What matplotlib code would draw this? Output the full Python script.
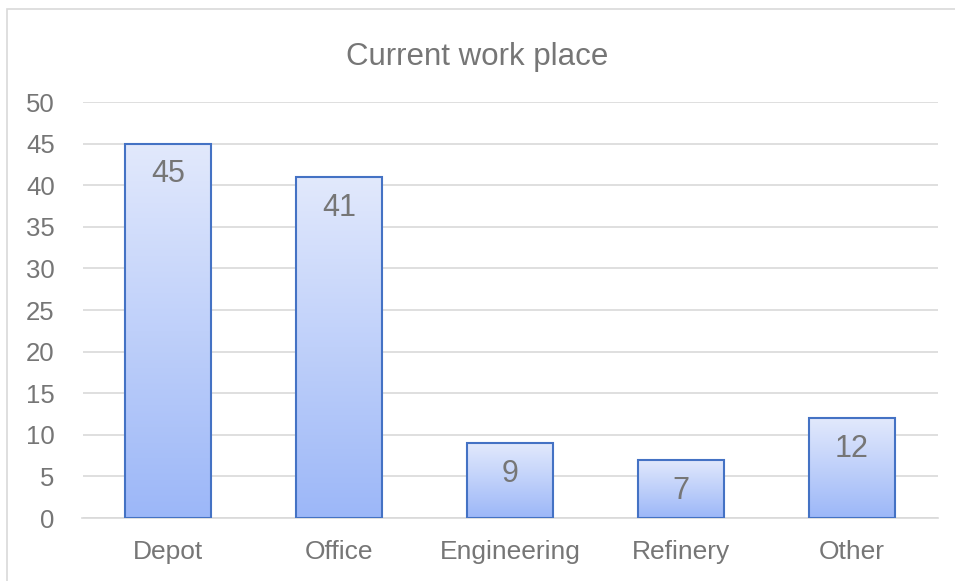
import matplotlib.pyplot as plt
import numpy as np
from matplotlib.colors import LinearSegmentedColormap
from matplotlib.patches import Rectangle

plt.rcParams["font.family"] = ["Liberation Sans", "DejaVu Sans"]

categories = ["Depot", "Office", "Engineering", "Refinery", "Other"]
counts = [45, 41, 9, 7, 12]
y_ticks = [0, 5, 10, 15, 20, 25, 30, 35, 40, 45, 50]

text_grey = "#767676"
grad = LinearSegmentedColormap.from_list("bar_grad", ["#9cb7f8", "#e2e9fc"])

fig = plt.figure(figsize=(9.55, 5.81), dpi=100)
fig.patches.append(Rectangle((7 / 955, -0.1), 1.2, 1.1 - 9 / 581, transform=fig.transFigure,
                             fill=False, edgecolor="#d9d9d9", linewidth=1.2))
ax = fig.add_axes([82.5 / 955, 1 - 518 / 581, 855 / 955, (518 - 102) / 581])

x = np.arange(len(categories))
bars = ax.bar(x, counts, width=0.5, color="none", edgecolor="#4472c4", linewidth=1.5, zorder=3)
gradient = np.linspace(0, 1, 256).reshape(-1, 1)
for bar in bars:
    x0, w, h = bar.get_x(), bar.get_width(), bar.get_height()
    im = ax.imshow(gradient, cmap=grad, origin="lower", aspect="auto",
                   extent=(x0, x0 + w, 0, h), zorder=2)
    im.set_clip_path(bar)

# data labels sit inside the top of each bar
for xi, v in zip(x, counts):
    ax.text(xi, v - 3.7, str(v), ha="center", va="center", fontsize=22, color=text_grey, zorder=4)

ax.set_xlim(-0.5, len(categories) - 0.5)
ax.set_ylim(0, 50)
ax.set_yticks(y_ticks)
ax.set_xticks(x)
ax.set_xticklabels(categories)
ax.tick_params(axis="both", length=0, labelcolor=text_grey)
ax.tick_params(axis="y", labelsize=18.5, pad=20)
ax.tick_params(axis="x", labelsize=19, pad=16)
ax.grid(axis="y", color="#d9d9d9", linewidth=1.2, zorder=0)
ax.set_axisbelow(True)
for s in ["top", "right", "left"]:
    ax.spines[s].set_visible(False)
ax.spines["bottom"].set_color("#d9d9d9")
ax.spines["bottom"].set_linewidth(1.2)

fig.text(0.5, 1 - 57 / 581, "Current work place", ha="center", va="center", fontsize=22.5, color=text_grey)

fig.savefig("out.png", dpi=100)
